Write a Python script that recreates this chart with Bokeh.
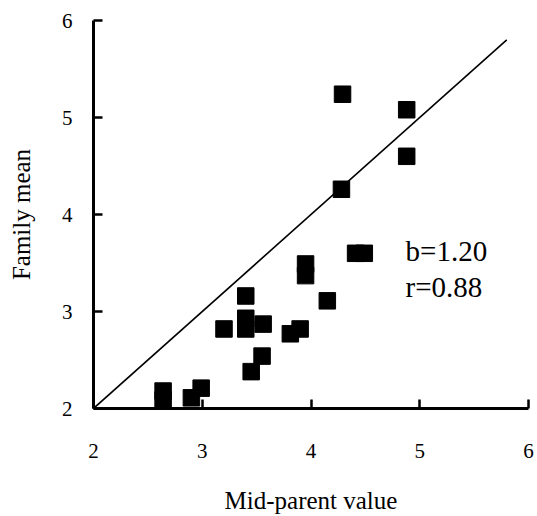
from bokeh.plotting import figure
from bokeh.models import Range1d, FixedTicker, Label
from bokeh.embed import file_html
from bokeh.resources import INLINE

# Mid-parent value (x) and family mean (y)
mid_parent = [4.29, 4.88, 4.88, 4.28, 4.41, 4.49, 3.95, 3.95, 3.40, 4.15,
              3.20, 3.40, 3.40, 3.56, 3.90, 3.81, 3.55, 3.45, 2.64, 2.64,
              2.99, 2.90]
family_mean = [5.24, 5.08, 4.60, 4.26, 3.60, 3.60, 3.49, 3.37, 3.16, 3.11,
               2.82, 2.93, 2.82, 2.87, 2.82, 2.77, 2.54, 2.38, 2.18, 2.09,
               2.21, 2.11]
line_x = [2.0, 5.8]
line_y = [2.0, 5.8]
ticks = [2, 3, 4, 5, 6]
annot_b = "b=1.20"
annot_r = "r=0.88"

FONT = "Liberation Serif"

p = figure(width=537, height=516, output_backend="svg", toolbar_location=None,
           x_range=Range1d(2, 6), y_range=Range1d(2, 6),
           min_border_left=93, min_border_right=9, min_border_top=20,
           min_border_bottom=106)
p.outline_line_color = None
p.grid.visible = False
p.background_fill_color = "white"
p.border_fill_color = "white"

p.line(line_x, line_y, line_color="black", line_width=1.6)
p.scatter(mid_parent, family_mean, marker="square", size=16.5,
          fill_color="black", line_color="black")

for ax in (p.xaxis[0], p.yaxis[0]):
    ax.ticker = FixedTicker(ticks=ticks)
    ax.minor_tick_line_color = None
    ax.major_tick_in = 9
    ax.major_tick_out = 0
    ax.major_tick_line_width = 2.5
    ax.axis_line_width = 3
    ax.axis_line_color = "black"
    ax.major_tick_line_color = "black"
    ax.major_label_text_font = FONT
    ax.major_label_text_font_size = "21px"
    ax.major_label_text_color = "black"
    ax.axis_label_text_font = FONT
    ax.axis_label_text_font_size = "25px"
    ax.axis_label_text_font_style = "normal"
    ax.axis_label_text_color = "black"

p.xaxis.axis_label = "Mid-parent value"
p.xaxis.major_label_standoff = 35
p.xaxis.axis_label_standoff = 26
p.yaxis.axis_label = "Family mean"
p.yaxis.major_label_standoff = 21
p.yaxis.axis_label_standoff = 24

p.add_layout(Label(x=4.87, y=3.62, text=annot_b, text_font=FONT,
                   text_font_size="29px", text_color="black",
                   text_baseline="alphabetic"))
p.add_layout(Label(x=4.87, y=3.25, text=annot_r, text_font=FONT,
                   text_font_size="29px", text_color="black",
                   text_baseline="alphabetic"))

open("out.html", "w").write(file_html(p, INLINE))
